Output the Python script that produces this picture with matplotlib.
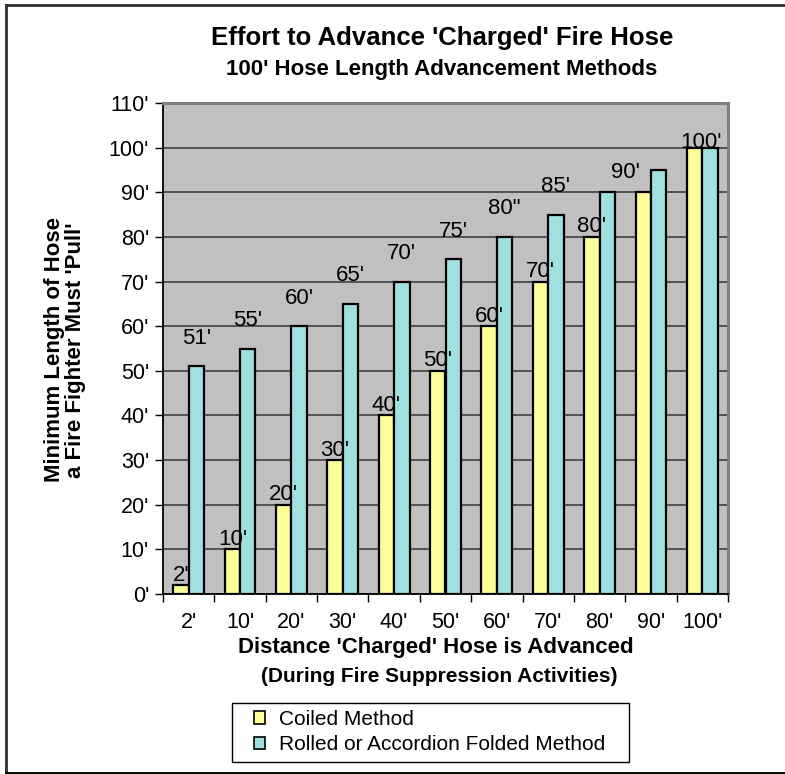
import matplotlib
matplotlib.use("Agg")
import matplotlib.pyplot as plt
from matplotlib.patches import Rectangle
from matplotlib.lines import Line2D

categories = ["2'", "10'", "20'", "30'", "40'", "50'", "60'", "70'", "80'", "90'", "100'"]
coiled = [2, 10, 20, 30, 40, 50, 60, 70, 80, 90, 100]
rolled = [51, 55, 60, 65, 70, 75, 80, 85, 90, 95, 100]
coiled_labels = ["2'", "10'", "20'", "30'", "40'", "50'", "60'", "70'", "80'", None, "100'"]
rolled_labels = ["51'", "55'", "60'", "65'", "70'", "75'", "80\"", "85'", "90'", None, None]
yticks = list(range(0, 111, 10))
ytick_labels = [f"{v}'" for v in yticks]

plt.rcParams['font.family'] = ['Liberation Sans', 'DejaVu Sans']

W, H = 785, 774
fig = plt.figure(figsize=(W / 100, H / 100), dpi=100)
fig.patch.set_facecolor('white')

ax = fig.add_axes([163 / W, 1 - 594 / H, (728 - 163) / W, (594 - 103) / H])
ax.set_facecolor('#C0C0C0')

yellow = '#FFFF99'
cyan = '#A0E0E0'
bw = 0.3
x = list(range(len(categories)))
ax.bar([i - 0.15 for i in x], coiled, width=bw, color=yellow, edgecolor='black', linewidth=1.6, zorder=3)
ax.bar([i + 0.15 for i in x], rolled, width=bw, color=cyan, edgecolor='black', linewidth=1.6, zorder=3)

tick_fs = 15.5
ax.set_xlim(-0.5, len(categories) - 0.5)
ax.set_ylim(0, 110)
ax.set_yticks(yticks)
ax.set_yticklabels(ytick_labels, fontsize=tick_fs)
ax.set_xticks(x)
ax.set_xticklabels(categories, fontsize=tick_fs)
ax.set_xticks([i - 0.5 for i in range(len(categories) + 1)], minor=True)
ax.tick_params(axis='x', which='major', length=0, pad=13)
ax.tick_params(axis='x', which='minor', length=6, width=1, direction='out')
ax.tick_params(axis='y', length=6, width=1, direction='out', pad=4)
ax.grid(axis='y', color='#404040', linewidth=1.2, zorder=1)

for s in ['left', 'bottom']:
    ax.spines[s].set_color('black')
    ax.spines[s].set_linewidth(1.3)
for s in ['top', 'right']:
    ax.spines[s].set_color('#808080')
    ax.spines[s].set_linewidth(2.2)

lbl_fs = 16
for i, (v, t) in enumerate(zip(coiled, coiled_labels)):
    if t is None:
        continue
    dx = 6 if i == len(categories) - 1 else 0
    dy = 5 if i == len(categories) - 1 else 10
    ax.annotate(t, (i - 0.15, v), xytext=(dx, dy), textcoords='offset pixels',
                ha='center', va='center', fontsize=lbl_fs, zorder=5)
for i, (v, t) in enumerate(zip(rolled, rolled_labels)):
    if t is None:
        continue
    dx = 18 if i == 8 else 0
    dy = 20 if i == 8 else 28
    ax.annotate(t, (i + 0.15, v), xytext=(dx, dy), textcoords='offset pixels',
                ha='center', va='center', fontsize=lbl_fs, zorder=5)

# Titles
fig.text(442 / W, 1 - 38 / H, "Effort to Advance 'Charged' Fire Hose", ha='center', va='center',
         fontsize=18.5, fontweight='bold')
fig.text(442 / W, 1 - 70 / H, "100' Hose Length Advancement Methods", ha='center', va='center',
         fontsize=16, fontweight='bold')

# Y label
fig.text(65 / W, 1 - 350 / H, "Minimum Length of Hose\na Fire Fighter Must 'Pull'", ha='center', va='center',
         rotation=90, fontsize=16, fontweight='bold', linespacing=1.05)

# X labels
fig.text(436 / W, 1 - 647 / H, "Distance 'Charged' Hose is Advanced", ha='center', va='center',
         fontsize=16, fontweight='bold')
fig.text(439 / W, 1 - 677 / H, "(During Fire Suppression Activities)", ha='center', va='center',
         fontsize=15, fontweight='heavy')

# Legend frame + legend
fig.add_artist(Rectangle((232 / W, 1 - 762 / H), (629 - 232) / W, (762 - 703) / H,
                         transform=fig.transFigure, facecolor='white', edgecolor='black', linewidth=1.0))
handles = [Rectangle((0, 0), 1, 1, facecolor=yellow, edgecolor='black', linewidth=1.2),
           Rectangle((0, 0), 1, 1, facecolor=cyan, edgecolor='black', linewidth=1.2)]
leg = fig.legend(handles, ["Coiled Method", "Rolled or Accordion Folded Method"],
                 loc='center left', bbox_to_anchor=(254 / W, 1 - 732 / H),
                 fontsize=15, frameon=False, handlelength=0.55, handleheight=0.55,
                 handletextpad=0.65, borderpad=0, labelspacing=0.32, borderaxespad=0)

# Outer border (left, top, bottom)
fig.add_artist(Line2D([6 / W, 6 / W], [1 - 773 / H, 1 - 5 / H], transform=fig.transFigure,
                      color='#303030', linewidth=2))
fig.add_artist(Line2D([6 / W, 1.0], [1 - 5 / H, 1 - 5 / H], transform=fig.transFigure,
                      color='#303030', linewidth=2))
fig.add_artist(Line2D([6 / W, 1.0], [1 - 772.5 / H, 1 - 772.5 / H], transform=fig.transFigure,
                      color='black', linewidth=2))

fig.savefig("out.png", dpi=100, facecolor='white')
